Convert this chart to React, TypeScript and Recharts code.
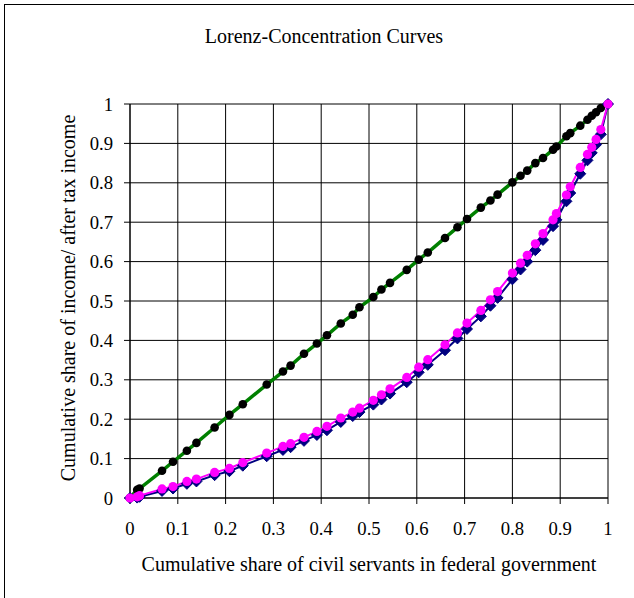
import { LineChart, Line, XAxis, YAxis, CartesianGrid, Label } from "recharts";

// cumulative share of civil servants (shared by all three curves)
const popShare = [
  0, 0.015, 0.02, 0.067, 0.09, 0.119, 0.139, 0.177, 0.208, 0.236, 0.286, 0.32,
  0.336, 0.364, 0.391, 0.412, 0.441, 0.466, 0.48, 0.509, 0.526, 0.544, 0.579,
  0.604, 0.623, 0.659, 0.685, 0.705, 0.734, 0.754, 0.769, 0.8, 0.817, 0.831,
  0.848, 0.864, 0.885, 0.892, 0.913, 0.921, 0.942, 0.957, 0.966, 0.975, 0.985, 1,
];

// concentration curve (green line, black dots)
const concentration = [
  0, 0.021, 0.024, 0.069, 0.092, 0.12, 0.14, 0.179, 0.211, 0.238, 0.288, 0.321,
  0.336, 0.366, 0.392, 0.413, 0.443, 0.465, 0.484, 0.51, 0.529, 0.546, 0.579,
  0.605, 0.623, 0.66, 0.687, 0.708, 0.737, 0.755, 0.77, 0.801, 0.818, 0.831,
  0.85, 0.863, 0.884, 0.892, 0.918, 0.926, 0.945, 0.96, 0.97, 0.979, 0.99, 1,
];

// lorenz curve of income (navy diamonds)
const lorenzIncome = [
  0, 0.001, 0.003, 0.018, 0.024, 0.036, 0.042, 0.058, 0.068, 0.082, 0.106, 0.122,
  0.129, 0.145, 0.16, 0.172, 0.193, 0.208, 0.218, 0.237, 0.25, 0.265, 0.294,
  0.319, 0.338, 0.375, 0.405, 0.429, 0.461, 0.488, 0.508, 0.555, 0.58, 0.6,
  0.629, 0.655, 0.69, 0.706, 0.753, 0.774, 0.823, 0.857, 0.876, 0.897, 0.923, 1,
];

// after tax income (magenta dots)
const afterTax = [
  0, 0.003, 0.006, 0.023, 0.029, 0.042, 0.048, 0.065, 0.075, 0.09, 0.114, 0.131,
  0.138, 0.154, 0.169, 0.182, 0.203, 0.218, 0.228, 0.248, 0.262, 0.277, 0.306,
  0.332, 0.351, 0.389, 0.419, 0.444, 0.476, 0.503, 0.524, 0.571, 0.596, 0.616,
  0.645, 0.671, 0.706, 0.722, 0.769, 0.79, 0.839, 0.872, 0.89, 0.91, 0.935, 1,
];

const axisTicks = [0, 0.1, 0.2, 0.3, 0.4, 0.5, 0.6, 0.7, 0.8, 0.9, 1];

const data = popShare.map((x, i) => ({
  x,
  conc: concentration[i],
  lorenz: lorenzIncome[i],
  after: afterTax[i],
}));

const FONT = '"Liberation Serif", "Times New Roman", serif';

function Diamond(props: any) {
  const { cx, cy } = props;
  const s = 5.5;
  return (
    <path
      d={`M${cx},${cy - s}L${cx + s},${cy}L${cx},${cy + s}L${cx - s},${cy}Z`}
      fill="#000080"
      stroke="#000080"
      strokeWidth={1}
    />
  );
}

const yLabel = () => (
  <text
    x={68}
    y={298}
    transform="rotate(-90 68 298)"
    textAnchor="middle"
    dominantBaseline="central"
    fontFamily={FONT}
    fontSize={20}
    fill="#000"
  >
    Cumulative share of income/ after tax income
  </text>
);

export default function App() {
  return (
    <div style={{ position: "absolute", left: 0, top: 0, width: 634, height: 598, background: "#fff" }}>
      <div
        style={{
          position: "absolute",
          left: 4,
          top: 4,
          width: 640,
          height: 600,
          borderLeft: "1px solid #000",
          borderTop: "1px solid #000",
        }}
      />
      <div style={{ position: "absolute", left: 0, top: 0 }}>
        <LineChart
          width={634}
          height={598}
          data={data}
          margin={{ top: 104, right: 26, left: 0, bottom: 0 }}
        >
          <CartesianGrid stroke="#000" strokeWidth={1} horizontal vertical />
          <XAxis
            type="number"
            dataKey="x"
            domain={[0, 1]}
            ticks={axisTicks}
            height={100}
            stroke="#000"
            tickSize={6}
            tickMargin={18}
            tick={{ fill: "#000", fontSize: 18.7, fontFamily: FONT }}
            interval={0}
          >
            <Label
              value="Cumulative share of civil servants in federal government"
              position="insideBottom"
              offset={27}
              style={{ fill: "#000", fontSize: 20, fontFamily: FONT }}
            />
          </XAxis>
          <YAxis
            type="number"
            domain={[0, 1]}
            ticks={axisTicks}
            width={130}
            stroke="#000"
            tickSize={6}
            tickMargin={11}
            tick={{ fill: "#000", fontSize: 18.7, fontFamily: FONT }}
            interval={0}
          >
            <Label content={yLabel} />
          </YAxis>
          <Line
            dataKey="conc"
            stroke="#008000"
            strokeWidth={3.5}
            dot={{ r: 4.3, fill: "#000", stroke: "#000", strokeWidth: 0 }}
            isAnimationActive={false}
          />
          <Line
            dataKey="lorenz"
            stroke="#000080"
            strokeWidth={2}
            dot={(p: any) => <Diamond key={"dm" + p.index} {...p} />}
            isAnimationActive={false}
          />
          <Line
            dataKey="after"
            stroke="#ff00ff"
            strokeWidth={2}
            dot={{ r: 4.6, fill: "#ff00ff", stroke: "#ff00ff", strokeWidth: 0 }}
            isAnimationActive={false}
          />
        </LineChart>
      </div>
      <svg
        width={634}
        height={80}
        style={{ position: "absolute", left: 0, top: 0, pointerEvents: "none" }}
      >
        <text x={324} y={43} textAnchor="middle" fontFamily={FONT} fontSize={20} fill="#000">
          Lorenz-Concentration Curves
        </text>
      </svg>
    </div>
  );
}
